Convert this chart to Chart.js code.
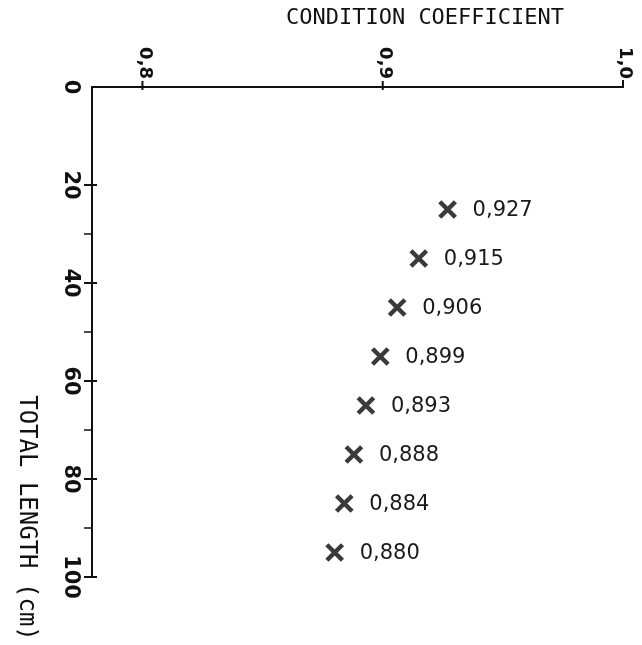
<!DOCTYPE html>
<html>
<head>
<meta charset="utf-8">
<script src="https://cdn.jsdelivr.net/npm/chart.js@4/dist/chart.umd.min.js"></script>
<style>
  html, body { margin: 0; padding: 0; background: #fff; }
  #wrap { width: 642px; height: 645px; position: relative; }
</style>
</head>
<body>
<div id="wrap"><canvas id="conditionChart"></canvas></div>
<script>
// Total length class midpoints (cm) and mean condition coefficient
const LENGTHS = [25, 35, 45, 55, 65, 75, 85, 95];
const COEFFICIENTS = [0.927, 0.915, 0.906, 0.899, 0.893, 0.888, 0.884, 0.880];

// axis ticks
const X_TICKS = [0.8, 0.9, 1.0];
const X_TICK_LABELS = ['0,8', '0,9', '1,0'];
const Y_TICKS = [0, 20, 40, 60, 80, 100];
const Y_MINOR_TICKS = [30, 50, 70, 90];

const X_TITLE = 'CONDITION COEFFICIENT';
const Y_TITLE = 'TOTAL LENGTH (cm)';

const INK = '#111';

function fmt(v) {
    return v.toFixed(3).replace('.', ',');
}

// draws the axes, ticks, titles and value labels by hand
// (labels in the original are rotated clockwise, which Chart.js can't do)
const paperAxes = {
    id: 'paperAxes',
    afterDatasetsDraw(chart) {
        const ctx = chart.ctx;
        const xs = chart.scales.x;
        const ys = chart.scales.y;
        const area = chart.chartArea;
        const x0 = area.left, y0 = area.top;

        ctx.save();
        ctx.strokeStyle = INK;
        ctx.fillStyle = INK;
        ctx.lineWidth = 2;

        // axis lines
        ctx.beginPath();
        ctx.moveTo(area.right, y0);
        ctx.lineTo(x0, y0);
        ctx.lineTo(x0, area.bottom);
        ctx.stroke();

        // x ticks + labels
        ctx.font = 'bold 18px "DejaVu Sans"';
        X_TICKS.forEach(function(v, i) {
            const px = xs.getPixelForValue(v);
            ctx.beginPath();
            if (i === X_TICKS.length - 1) {
                ctx.moveTo(px, y0 - 7);
                ctx.lineTo(px, y0 + 1);
            } else {
                ctx.moveTo(px, y0 - 6);
                ctx.lineTo(px, y0 + 3);
            }
            ctx.stroke();

            ctx.save();
            ctx.translate(px + 2, y0 - 8);
            ctx.rotate(Math.PI / 2);
            ctx.textAlign = 'right';
            ctx.textBaseline = 'middle';
            ctx.fillText(X_TICK_LABELS[i], 0, 0);
            ctx.restore();
        });

        // y ticks + labels
        ctx.font = 'bold 21px "DejaVu Sans"';
        Y_TICKS.forEach(function(v) {
            const py = ys.getPixelForValue(v);
            if (v > 0) {
                ctx.beginPath();
                ctx.moveTo(x0 - 8, py);
                ctx.lineTo(x0 + 5, py);
                ctx.stroke();
            }
            ctx.save();
            ctx.translate(x0 - 22, py);
            ctx.rotate(Math.PI / 2);
            ctx.textAlign = 'center';
            ctx.textBaseline = 'middle';
            ctx.fillText(String(v), 0, 0);
            ctx.restore();
        });
        ctx.lineWidth = 1.5;
        Y_MINOR_TICKS.forEach(function(v) {
            const py = ys.getPixelForValue(v);
            ctx.beginPath();
            ctx.moveTo(x0 - 8, py);
            ctx.lineTo(x0, py);
            ctx.stroke();
        });

        // titles
        ctx.font = '22px "DejaVu Sans Mono"';
        ctx.textAlign = 'center';
        ctx.textBaseline = 'middle';
        ctx.fillText(X_TITLE, 425, 18);

        ctx.save();
        ctx.font = '24px "DejaVu Sans Mono"';
        ctx.translate(26, 518);
        ctx.rotate(Math.PI / 2);
        ctx.fillText(Y_TITLE, 0, 0);
        ctx.restore();

        // value labels next to the markers
        ctx.font = '21px "DejaVu Sans"';
        ctx.fillStyle = '#1a1a1a';
        ctx.textAlign = 'left';
        ctx.textBaseline = 'middle';
        const meta = chart.getDatasetMeta(0);
        meta.data.forEach(function(pt, i) {
            ctx.fillText(fmt(COEFFICIENTS[i]), pt.x + 25, pt.y + 1);
        });

        ctx.restore();
    }
};

let conditionChart = null;

function init() {
    if (typeof Chart === 'undefined') {
        setTimeout(init, 100);
        return;
    }
    const canvas = document.getElementById('conditionChart');

    conditionChart = new Chart(canvas.getContext('2d'), {
        type: 'scatter',
        data: {
            datasets: [{
                data: LENGTHS.map(function(len, i) {
                    return { x: COEFFICIENTS[i], y: len };
                }),
                pointStyle: 'crossRot',
                pointRadius: 11,
                pointHoverRadius: 11,
                borderWidth: 4.5,
                borderColor: '#3a3a3a',
                backgroundColor: '#3a3a3a',
                clip: false
            }]
        },
        options: {
            responsive: true,
            maintainAspectRatio: false,
            animation: false,
            events: [],
            layout: {
                padding: { left: 92, top: 87, right: 19, bottom: 68 }
            },
            plugins: {
                legend: { display: false },
                tooltip: { enabled: false }
            },
            scales: {
                x: { type: 'linear', display: false, min: 0.779, max: 1.0 },
                y: { type: 'linear', display: false, min: 0, max: 100, reverse: true }
            }
        },
        plugins: [paperAxes]
    });
}

if (document.readyState === 'loading') {
    document.addEventListener('DOMContentLoaded', init);
} else {
    init();
}
</script>
</body>
</html>
